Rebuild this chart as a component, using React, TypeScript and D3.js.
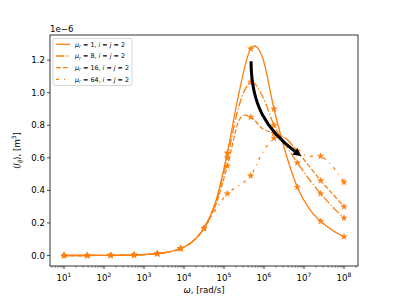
import { useEffect, useRef } from "react";
import * as d3 from "d3";

// angular frequency samples (log-spaced, 10^1 .. 10^8)
const omega = [
  1e1, 19.57, 38.31, 74.99, 146.8, 287.3, 562.3, 1101, 2154, 4217, 8254, 16156, 31623,
  61897, 121153, 237137, 464159, 908518, 1778279, 3480701, 6812921, 13335214, 26101572,
  51089698, 1e8,
];

// <I_ij> in units of 1e-6 m^3
const mu1 = [
  0, 0, 0, 0.001, 0.001, 0.002, 0.003, 0.006, 0.011, 0.022, 0.043, 0.085, 0.167,
  0.33, 0.63, 1.0, 1.27, 1.22, 0.9, 0.63, 0.42, 0.29, 0.21, 0.155, 0.115,
];
const mu8 = [
  0, 0, 0, 0.001, 0.001, 0.002, 0.003, 0.006, 0.011, 0.022, 0.043, 0.085, 0.167,
  0.32, 0.6, 0.92, 1.065, 0.98, 0.8, 0.68, 0.57, 0.47, 0.38, 0.3, 0.23,
];
const mu16 = [
  0, 0, 0, 0.001, 0.001, 0.002, 0.003, 0.006, 0.011, 0.022, 0.043, 0.085, 0.167,
  0.31, 0.55, 0.83, 0.85, 0.78, 0.75, 0.72, 0.64, 0.55, 0.46, 0.38, 0.3,
];
const mu64 = [
  0, 0, 0, 0.001, 0.001, 0.002, 0.003, 0.006, 0.011, 0.022, 0.043, 0.085, 0.167,
  0.28, 0.38, 0.43, 0.49, 0.63, 0.72, 0.72, 0.64, 0.61, 0.61, 0.55, 0.45,
];

const seriesNames = ["1", "8", "16", "64"];
const seriesValues = [mu1, mu8, mu16, mu64];
const seriesDash = ["none", "8.3,2.1,1.3,2.1", "4.8,2.1", "3,5,1,5"];

const yTicks = [0, 0.2, 0.4, 0.6, 0.8, 1.0, 1.2];
const xTicks = [1e1, 1e2, 1e3, 1e4, 1e5, 1e6, 1e7, 1e8];

// black annotation arrow: start, two control points, end (omega, value)
const arrowPts = [
  [4.75e5, 1.193],
  [4.75e5, 0.92],
  [1.2e6, 0.77],
  [8.5e6, 0.61],
];

const ORANGE = "#ff7f0e";
const FONT = "DejaVu Sans, sans-serif";

const App = () => {
  const svgRef = useRef<SVGSVGElement>(null);

  useEffect(() => {
    const svg = d3.select(svgRef.current);
    svg.selectAll("*").remove();

    const left = 50, right = 358, top = 35, bottom = 266;

    const x = d3.scaleLog().domain([Math.pow(10, 0.65), Math.pow(10, 8.35)]).range([left, right]);
    const y = d3.scaleLinear().domain([-0.0645, 1.3545]).range([bottom, top]);

    const defs = svg.append("defs");
    defs.append("clipPath").attr("id", "clip")
      .append("rect").attr("x", left).attr("y", top).attr("width", right - left).attr("height", bottom - top);

    // star marker
    const star = d3.symbol().type(d3.symbolStar).size(11);

    const line = d3.line<number>()
      .x((_, i) => x(omega[i]))
      .y((d) => y(d))
      .curve(d3.curveCatmullRom.alpha(0));

    const plot = svg.append("g").attr("clip-path", "url(#clip)");

    seriesValues.forEach((vals, k) => {
      plot.append("path")
        .datum(vals)
        .attr("fill", "none")
        .attr("stroke", ORANGE)
        .attr("stroke-width", 1.3)
        .attr("stroke-dasharray", seriesDash[k])
        .attr("d", line);
      plot.selectAll(null)
        .data(vals.filter((_, i) => i % 2 === 0))
        .enter()
        .append("path")
        .attr("d", star)
        .attr("transform", (d, i) => `translate(${x(omega[i * 2])},${y(d)})`)
        .attr("fill", ORANGE)
        .attr("stroke", ORANGE)
        .attr("stroke-width", 0.6);
    });

    // curved arrow
    const p = arrowPts.map((d) => [x(d[0]), y(d[1])]);
    const tip = p[3];
    const ang = Math.atan2(tip[1] - p[2][1], tip[0] - p[2][0]);
    const headLen = 8;
    const base = [tip[0] - headLen * Math.cos(ang), tip[1] - headLen * Math.sin(ang)];
    plot.append("path")
      .attr("d", `M${p[0][0]},${p[0][1]} C${p[1][0]},${p[1][1]} ${p[2][0]},${p[2][1]} ${base[0]},${base[1]}`)
      .attr("fill", "none")
      .attr("stroke", "#000")
      .attr("stroke-width", 3);
    const w = 4;
    plot.append("path")
      .attr("d",
        `M${tip[0]},${tip[1]} L${base[0] + w * Math.sin(ang)},${base[1] - w * Math.cos(ang)} L${base[0] - w * Math.sin(ang)},${base[1] + w * Math.cos(ang)} Z`)
      .attr("fill", "#000");

    // spines
    svg.append("rect")
      .attr("x", left).attr("y", top).attr("width", right - left).attr("height", bottom - top)
      .attr("fill", "none").attr("stroke", "#000").attr("stroke-width", 0.8);

    // y axis
    const gy = svg.append("g");
    yTicks.forEach((t) => {
      gy.append("line").attr("x1", left).attr("x2", left - 3).attr("y1", y(t)).attr("y2", y(t))
        .attr("stroke", "#000").attr("stroke-width", 0.7);
      gy.append("text").attr("x", left - 5).attr("y", y(t)).attr("dy", "0.35em")
        .attr("text-anchor", "end").attr("font-family", FONT).attr("font-size", 8.6)
        .text(t.toFixed(1));
    });
    svg.append("text").attr("x", left).attr("y", 32).attr("font-family", FONT).attr("font-size", 8.6)
      .text("1e\u22126");

    // x axis
    const gx = svg.append("g");
    const minor: number[] = [];
    for (let e = 0; e <= 8; e++) for (let m = 2; m <= 9; m++) {
      const v = m * Math.pow(10, e);
      if (x(v) >= left && x(v) <= right) minor.push(v);
    }
    minor.forEach((t) => {
      gx.append("line").attr("x1", x(t)).attr("x2", x(t)).attr("y1", bottom).attr("y2", bottom + 1.7)
        .attr("stroke", "#000").attr("stroke-width", 0.5);
    });
    xTicks.forEach((t) => {
      gx.append("line").attr("x1", x(t)).attr("x2", x(t)).attr("y1", bottom).attr("y2", bottom + 3)
        .attr("stroke", "#000").attr("stroke-width", 0.7);
      const txt = gx.append("text").attr("x", x(t)).attr("y", bottom + 15)
        .attr("text-anchor", "middle").attr("font-family", FONT).attr("font-size", 8.6);
      txt.append("tspan").text("10");
      txt.append("tspan").attr("dy", -4).attr("font-size", 6).text(String(Math.round(Math.log10(t))));
    });

    // axis labels
    const xl = svg.append("text").attr("x", (left + right) / 2).attr("y", 293)
      .attr("text-anchor", "middle").attr("font-family", FONT).attr("font-size", 8.6);
    xl.append("tspan").attr("font-style", "italic").text("\u03c9");
    xl.append("tspan").text(", [rad/s]");

    const yl = svg.append("text").attr("transform", `translate(20,${(top + bottom) / 2}) rotate(-90)`)
      .attr("text-anchor", "middle").attr("font-family", FONT).attr("font-size", 8.6);
    yl.append("tspan").text("\u27e8");
    yl.append("tspan").attr("font-style", "italic").text("I");
    yl.append("tspan").attr("font-style", "italic").attr("font-size", 6).attr("dy", 2).text("ij");
    yl.append("tspan").attr("dy", -2).text("\u27e9, [m");
    yl.append("tspan").attr("dy", -4).attr("font-size", 6).text("3");
    yl.append("tspan").attr("dy", 4).text("]");

    // legend
    const lg = svg.append("g");
    lg.append("rect").attr("x", 53).attr("y", 38.5).attr("width", 79).attr("height", 47).attr("rx", 2)
      .attr("fill", "#fff").attr("fill-opacity", 0.8).attr("stroke", "#ccc").attr("stroke-width", 0.8);
    seriesNames.forEach((n, k) => {
      const yy = 44.3 + k * 11.7;
      lg.append("line").attr("x1", 56).attr("x2", 70).attr("y1", yy).attr("y2", yy)
        .attr("stroke", ORANGE).attr("stroke-width", 1.3).attr("stroke-dasharray", seriesDash[k]);
      const t = lg.append("text").attr("x", 75).attr("y", yy).attr("dy", "0.35em")
        .attr("font-family", FONT).attr("font-size", 6.4);
      t.append("tspan").attr("font-style", "italic").text("\u03bc");
      t.append("tspan").attr("font-style", "italic").attr("font-size", 4.6).attr("dy", 1.5).text("r");
      t.append("tspan").attr("dy", -1.5).text(` = ${n}, `);
      t.append("tspan").attr("font-style", "italic").text("i");
      t.append("tspan").text(" = ");
      t.append("tspan").attr("font-style", "italic").text("j");
      t.append("tspan").text(" = 2");
    });
  }, []);

  return (
    <svg
      ref={svgRef}
      width={399}
      height={299}
      style={{ position: "absolute", left: 0, top: 0, background: "#fff" }}
    />
  );
};

export default App;
